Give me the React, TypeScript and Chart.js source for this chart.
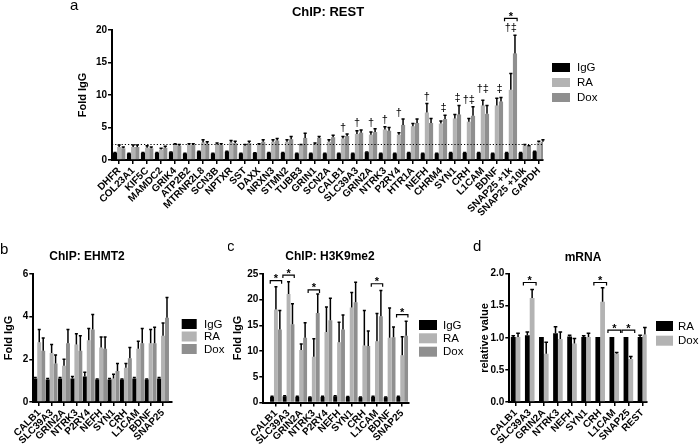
import React, { useEffect, useRef } from 'react';
import { Chart, registerables } from 'chart.js';

Chart.register(...registerables);

const FONT = "'Liberation Sans', Arial, Helvetica, sans-serif";
const BLACK = '#000000';
const LIGHT = '#b3b3b3';
const DARK = '#8f8f8f';

// ---------------- Panel a: ChIP REST ----------------
const aGenes = ['DHFR', 'COL23A1', 'KIF5C', 'MAMDC2', 'GRIK4', 'ATP2B2', 'MTRNR2L8', 'SCN3B', 'NPTXR', 'SST', 'DAXX', 'NRXN3', 'STMN2', 'TUBB3', 'GRIN1', 'SCN2A', 'CALB1', 'SLC39A3', 'GRIN2A', 'NTRK3', 'P2RY4', 'HTR1A', 'NEFH', 'CHRM4', 'SYN1', 'CRH', 'L1CAM', 'BDNF', 'SNAP25 +1k', 'SNAP25 +10k', 'GAPDH'];
const aIgG = [1.1, 1.0, 1.1, 1.1, 1.2, 1.0, 1.3, 1.0, 1.3, 1.0, 1.1, 1.1, 1.1, 1.0, 1.0, 1.0, 1.0, 1.0, 1.2, 1.0, 1.0, 1.1, 1.0, 1.0, 1.1, 1.1, 1.1, 1.0, 1.1, 1.1, 1.3];
const aIgGErr = [0.05, 0.03, 0.05, 0.05, 0.05, 0.03, 0.05, 0.03, 0.05, 0.03, 0.03, 0.05, 0.05, 0.03, 0.03, 0.03, 0.03, 0.03, 0.05, 0.03, 0.03, 0.05, 0.03, 0.03, 0.05, 0.05, 0.05, 0.03, 0.05, 0.05, 0.05];
const aRA = [2.0, 2.0, 1.9, 1.6, 2.3, 2.3, 2.7, 2.4, 2.7, 2.2, 2.3, 2.8, 2.8, 2.3, 2.4, 2.8, 3.3, 4.0, 3.9, 4.7, 3.9, 5.2, 7.3, 5.6, 6.4, 5.9, 8.4, 8.4, 10.8, 2.2, 2.7];
const aRAErr = [0.3, 0.3, 0.3, 0.2, 0.2, 0.2, 0.4, 0.2, 0.3, 0.2, 0.2, 0.3, 0.3, 0.1, 0.2, 0.3, 0.3, 0.5, 0.4, 0.4, 0.3, 0.4, 1.4, 0.4, 0.6, 0.5, 0.8, 1.1, 2.5, 0.2, 0.2];
const aDox = [1.8, 2.0, 1.8, 1.9, 2.2, 2.3, 2.5, 2.3, 2.6, 2.6, 2.8, 3.0, 3.2, 3.4, 3.4, 3.5, 3.7, 4.2, 4.3, 4.5, 5.4, 5.7, 5.7, 6.3, 7.0, 6.8, 7.1, 9.0, 16.4, 2.1, 2.8];
const aDoxErr = [0.2, 0.3, 0.2, 0.2, 0.2, 0.2, 0.3, 0.2, 0.3, 0.3, 0.3, 0.3, 0.4, 0.7, 0.2, 0.3, 0.3, 0.4, 0.5, 0.5, 0.9, 0.6, 0.7, 0.6, 1.4, 1.4, 1.3, 0.6, 2.8, 0.1, 0.3];
const aYTicks = [0, 5, 10, 15, 20];
const aThreshold = 2.45;
const aMarks = [
  { i: 16, text: '†', y: 4.9 },
  { i: 17, text: '†', y: 5.7 },
  { i: 18, text: '†', y: 5.7 },
  { i: 19, text: '†', y: 6.2 },
  { i: 20, text: '†', y: 7.2 },
  { i: 22, text: '†', y: 9.7 },
  { i: 23, text: '‡', y: 8.0 },
  { i: 24, text: '‡', y: 9.5 },
  { i: 25, text: '†‡', y: 9.2 },
  { i: 26, text: '†‡', y: 10.9 },
  { i: 27, text: '‡', y: 10.9 },
  { i: 28, text: '†‡', y: 20.3 },
];
const aSig = [{ i: 28, y: 21.8 }];

// ---------------- Panel b: ChIP EHMT2 ----------------
const bGenes = ['CALB1', 'SLC39A3', 'GRIN2A', 'NTRK3', 'P2RY4', 'NEFH', 'SYN1', 'CRH', 'L1CAM', 'BDNF', 'SNAP25'];
const bIgG = [1.1, 1.05, 1.1, 1.1, 1.2, 1.05, 1.05, 1.05, 1.1, 1.05, 1.1];
const bIgGErr = [0.05, 0.05, 0.05, 0.1, 0.2, 0.03, 0.05, 0.03, 0.05, 0.03, 0.05];
const bRA = [2.8, 2.3, 1.7, 2.7, 2.9, 2.55, 1.1, 1.6, 2.5, 2.75, 3.1];
const bRAErr = [0.6, 0.4, 0.3, 0.5, 0.55, 0.5, 0.2, 0.2, 0.35, 0.65, 0.6];
const bDox = [2.4, 1.8, 2.75, 2.4, 3.4, 2.5, 1.45, 2.05, 2.75, 2.75, 3.95];
const bDoxErr = [0.6, 0.4, 0.65, 0.7, 0.7, 0.55, 0.35, 0.5, 0.7, 0.75, 0.95];
const bYTicks = [0, 2, 4, 6];

// ---------------- Panel c: ChIP H3K9me2 ----------------
const cGenes = ['CALB1', 'SLC39A3', 'GRIN2A', 'NTRK3', 'P2RY4', 'NEFH', 'SYN1', 'CRH', 'L1CAM', 'BDNF', 'SNAP25'];
const cIgG = [1.1, 1.2, 1.1, 1.0, 1.1, 1.2, 1.1, 1.0, 1.1, 1.0, 1.1];
const cIgGErr = [0.1, 0.1, 0.1, 0.05, 0.1, 0.1, 0.05, 0.05, 0.1, 0.05, 0.1];
const cRA = [18.1, 21.1, 10.2, 8.9, 13.7, 11.7, 18.5, 11.1, 11.9, 12.6, 9.2];
const cRAErr = [4.4, 2.4, 1.2, 3.5, 4.9, 3.9, 2.9, 6.8, 5.4, 5.8, 3.6];
const cDox = [14.2, 15.2, 12.6, 17.4, 16.0, 14.2, 19.5, 11.0, 16.8, 12.7, 13.0];
const cDoxErr = [3.7, 4.0, 2.9, 3.7, 4.3, 2.8, 3.9, 2.9, 5.0, 2.0, 2.8];
const cYTicks = [0, 5, 10, 15, 20, 25];
const cSig = [
  { i: 0, y: 23.7 },
  { i: 1, y: 24.8 },
  { i: 3, y: 21.9 },
  { i: 8, y: 23.1 },
  { i: 10, y: 17.1 },
];

// ---------------- Panel d: mRNA ----------------
const dGenes = ['CALB1', 'SLC39A3', 'GRIN2A', 'NTRK3', 'NEFH', 'SYN1', 'CRH', 'L1CAM', 'SNAP25', 'REST'];
const dRA = [1.01, 1.04, 1.01, 1.07, 1.02, 1.01, 1.01, 1.01, 1.01, 1.01];
const dRAErr = [0.02, 0.05, 0.0, 0.1, 0.02, 0.02, 0.0, 0.0, 0.0, 0.03];
const dDox = [1.01, 1.62, 0.75, 0.98, 0.91, 1.01, 1.56, 0.75, 0.67, 1.05];
const dDoxErr = [0.06, 0.13, 0.18, 0.11, 0.08, 0.06, 0.22, 0.02, 0.04, 0.11];
const dYTicks = [0, 0.5, 1.0, 1.5, 2.0];
const dSig = [
  { i: 1, y: 1.86 },
  { i: 6, y: 1.86 },
  { i: 7, y: 1.12 },
  { i: 8, y: 1.12 },
];

type Series = { label: string; color: string; values: number[]; errors: number[] };
type Spec = {
  box: { left: number; top: number; width: number; height: number };
  plot: { left: number; right: number; top: number; bottom: number };
  yW: number;
  xH: number;
  xMin: number;
  xMax: number;
  yMax: number;
  yTicks: number[];
  yDecimals: number;
  cats: string[];
  series: Series[];
  catPct: number;
  title: { text: string; x: number; y: number; size: number };
  yTitle: { text: string; x: number; y: number };
  legend: { x: number; textX: number; ys: number[]; w: number; h: number };
  letter: { text: string; x: number; y: number };
  marks?: { i: number; text: string; y: number }[];
  sig?: { i: number; y: number }[];
  threshold?: number;
};

const specA: Spec = {
  box: { left: 0, top: 0, width: 700, height: 236 },
  plot: { left: 112, right: 543, top: 30, bottom: 160 },
  yW: 28,
  xH: 76,
  xMin: -0.51,
  xMax: 30.3,
  yMax: 20,
  yTicks: aYTicks,
  yDecimals: 0,
  cats: aGenes,
  series: [
    { label: 'IgG', color: BLACK, values: aIgG, errors: aIgGErr },
    { label: 'RA', color: LIGHT, values: aRA, errors: aRAErr },
    { label: 'Dox', color: DARK, values: aDox, errors: aDoxErr },
  ],
  catPct: 0.89,
  title: { text: 'ChIP: REST', x: 328, y: 12, size: 13 },
  yTitle: { text: 'Fold IgG', x: 82.5, y: 95 },
  legend: { x: 552, textX: 577, ys: [67.5, 82.5, 97.5], w: 18, h: 9 },
  letter: { text: 'a', x: 70, y: 10 },
  marks: aMarks,
  sig: aSig,
  threshold: aThreshold,
};

const specB: Spec = {
  box: { left: 0, top: 236, width: 228, height: 209 },
  plot: { left: 33.3, right: 171.7, top: 274, bottom: 402 },
  yW: 28,
  xH: 43,
  xMin: -0.48,
  xMax: 10.7,
  yMax: 6,
  yTicks: bYTicks,
  yDecimals: 0,
  cats: bGenes,
  series: [
    { label: 'IgG', color: BLACK, values: bIgG, errors: bIgGErr },
    { label: 'RA', color: LIGHT, values: bRA, errors: bRAErr },
    { label: 'Dox', color: DARK, values: bDox, errors: bDoxErr },
  ],
  catPct: 0.96,
  title: { text: 'ChIP: EHMT2', x: 87, y: 257, size: 12 },
  yTitle: { text: 'Fold IgG', x: 9, y: 338 },
  legend: { x: 181.7, textX: 204, ys: [324, 336.5, 349], w: 15, h: 10 },
  letter: { text: 'b', x: 0, y: 254 },
};

const specC: Spec = {
  box: { left: 228, top: 236, width: 237, height: 209 },
  plot: { left: 263.3, right: 408.3, top: 274, bottom: 402.5 },
  yW: 28,
  xH: 43,
  xMin: -1.0,
  xMax: 10.48,
  yMax: 25,
  yTicks: cYTicks,
  yDecimals: 0,
  cats: cGenes,
  series: [
    { label: 'IgG', color: BLACK, values: cIgG, errors: cIgGErr },
    { label: 'RA', color: LIGHT, values: cRA, errors: cRAErr },
    { label: 'Dox', color: DARK, values: cDox, errors: cDoxErr },
  ],
  catPct: 0.93,
  title: { text: 'ChIP: H3K9me2', x: 330, y: 257, size: 12 },
  yTitle: { text: 'Fold IgG', x: 237.5, y: 338 },
  legend: { x: 419, textX: 443, ys: [325, 338.3, 351.7], w: 18, h: 10 },
  letter: { text: 'c', x: 227, y: 251 },
  sig: cSig,
};

const specD: Spec = {
  box: { left: 465, top: 236, width: 235, height: 209 },
  plot: { left: 509.3, right: 646.7, top: 273.5, bottom: 402 },
  yW: 28,
  xH: 43,
  xMin: -0.45,
  xMax: 9.3,
  yMax: 2,
  yTicks: dYTicks,
  yDecimals: 1,
  cats: dGenes,
  series: [
    { label: 'RA', color: BLACK, values: dRA, errors: dRAErr },
    { label: 'Dox', color: LIGHT, values: dDox, errors: dDoxErr },
  ],
  catPct: 0.68,
  title: { text: 'mRNA', x: 583, y: 257.5, size: 12 },
  yTitle: { text: 'relative value', x: 485, y: 338 },
  legend: { x: 656, textX: 678, ys: [326, 340.7], w: 17, h: 10 },
  letter: { text: 'd', x: 473, y: 251 },
  sig: dSig,
};

const decorPlugin = {
  id: 'decor',
  afterDatasetsDraw(chart: any, _args: any, opts: any) {
    const s: Spec = opts.spec;
    if (!s) return;
    const ctx = chart.ctx;
    const ys = chart.scales.y;
    ctx.save();
    if (s.threshold != null) {
      const y = Math.round(ys.getPixelForValue(s.threshold)) + 0.5;
      ctx.strokeStyle = '#000';
      ctx.lineWidth = 1;
      ctx.setLineDash([1.2, 2]);
      ctx.beginPath();
      ctx.moveTo(chart.chartArea.left, y);
      ctx.lineTo(chart.chartArea.right, y);
      ctx.stroke();
      ctx.setLineDash([]);
    }
    chart.data.datasets.forEach((ds: any, di: number) => {
      const meta = chart.getDatasetMeta(di);
      meta.data.forEach((bar: any, i: number) => {
        const e = ds.errors ? ds.errors[i] : 0;
        if (!e) return;
        const v = ds.data[i].y;
        const x = bar.x;
        const y0 = ys.getPixelForValue(v);
        const y1 = ys.getPixelForValue(v + e);
        const cap = Math.max(1.5, bar.width * 0.38);
        ctx.strokeStyle = '#000';
        ctx.lineWidth = 1.5;
        ctx.beginPath();
        ctx.moveTo(x, y0);
        ctx.lineTo(x, y1);
        ctx.moveTo(x - cap, y1);
        ctx.lineTo(x + cap, y1);
        ctx.stroke();
      });
    });
    ctx.restore();
  },
  afterDraw(chart: any, _args: any, opts: any) {
    const s: Spec = opts.spec;
    if (!s) return;
    const ctx = chart.ctx;
    const xs = chart.scales.x;
    const ys = chart.scales.y;
    const ox = s.box.left;
    const oy = s.box.top;
    ctx.save();
    ctx.fillStyle = '#000';
    ctx.strokeStyle = '#000';
    // panel letter
    ctx.font = `normal 15px ${FONT}`;
    ctx.textAlign = 'left';
    ctx.textBaseline = 'alphabetic';
    ctx.fillText(s.letter.text, s.letter.x - ox, s.letter.y - oy);
    // title
    ctx.font = `bold ${s.title.size}px ${FONT}`;
    ctx.textAlign = 'center';
    ctx.textBaseline = 'middle';
    ctx.fillText(s.title.text, s.title.x - ox, s.title.y - oy);
    // y title
    ctx.save();
    ctx.translate(s.yTitle.x - ox, s.yTitle.y - oy);
    ctx.rotate(-Math.PI / 2);
    ctx.font = `bold 11px ${FONT}`;
    ctx.textAlign = 'center';
    ctx.textBaseline = 'middle';
    ctx.fillText(s.yTitle.text, 0, 0);
    ctx.restore();
    // legend
    s.series.forEach((ser, k) => {
      const cy = s.legend.ys[k] - oy;
      ctx.fillStyle = ser.color;
      ctx.fillRect(s.legend.x - ox, cy - s.legend.h / 2, s.legend.w, s.legend.h);
      ctx.fillStyle = '#000';
      ctx.font = `normal 11.5px ${FONT}`;
      ctx.textAlign = 'left';
      ctx.textBaseline = 'middle';
      ctx.fillText(ser.label, s.legend.textX - ox, cy + 0.5);
    });
    // dagger marks
    (s.marks || []).forEach((m) => {
      const x = xs.getPixelForValue(m.i + (m.text === '‡' ? 0.2 : 0));
      const y = ys.getPixelForValue(m.y);
      ctx.font = `normal 11px ${FONT}`;
      ctx.textAlign = 'center';
      ctx.textBaseline = 'middle';
      ctx.fillText(m.text, x, y);
    });
    // significance brackets
    (s.sig || []).forEach((b) => {
      const x0 = xs.getPixelForValue(b.i - 0.45);
      const x1 = xs.getPixelForValue(b.i + 0.45);
      const y = ys.getPixelForValue(b.y);
      ctx.lineWidth = 1.2;
      ctx.beginPath();
      ctx.moveTo(x0, y + 3);
      ctx.lineTo(x0, y);
      ctx.lineTo(x1, y);
      ctx.lineTo(x1, y + 3);
      ctx.stroke();
      ctx.font = `bold 11px ${FONT}`;
      ctx.textAlign = 'center';
      ctx.textBaseline = 'alphabetic';
      ctx.fillText('*', (x0 + x1) / 2, y + 1.5);
    });
    ctx.restore();
  },
};

function buildConfig(s: Spec): any {
  const padLeft = s.plot.left - s.box.left - s.yW;
  const padRight = s.box.left + s.box.width - s.plot.right;
  const padTop = s.plot.top - s.box.top;
  const padBottom = s.box.top + s.box.height - s.plot.bottom - s.xH;
  return {
    type: 'bar',
    data: {
      datasets: s.series.map((ser) => ({
        label: ser.label,
        data: ser.values.map((v, i) => ({ x: i, y: v })),
        errors: ser.errors,
        backgroundColor: ser.color,
        borderWidth: 0,
        barPercentage: 1,
        categoryPercentage: s.catPct,
      })),
    },
    options: {
      animation: false,
      responsive: false,
      maintainAspectRatio: false,
      devicePixelRatio: 1,
      layout: { padding: { left: padLeft, right: padRight, top: padTop, bottom: padBottom } },
      plugins: {
        legend: { display: false },
        title: { display: false },
        tooltip: { enabled: false },
        decor: { spec: s },
      },
      scales: {
        x: {
          type: 'linear',
          min: s.xMin,
          max: s.xMax,
          offset: false,
          bounds: 'data',
          afterBuildTicks: (scale: any) => {
            scale.ticks = s.cats.map((_c, i) => ({ value: i }));
          },
          afterFit: (scale: any) => {
            scale.height = s.xH;
          },
          ticks: {
            autoSkip: false,
            maxRotation: 45,
            minRotation: 45,
            padding: 1,
            color: '#000',
            font: { family: FONT, size: 10, weight: 'bold' },
            callback: (_v: any, i: number) => s.cats[i],
          },
          grid: {
            display: true,
            offset: false,
            drawOnChartArea: false,
            drawTicks: true,
            tickLength: 4,
            color: '#000',
            lineWidth: 1.5,
          },
          border: { display: true, color: '#000', width: 2 },
        },
        y: {
          type: 'linear',
          min: 0,
          max: s.yMax,
          afterBuildTicks: (scale: any) => {
            scale.ticks = s.yTicks.map((v) => ({ value: v }));
          },
          afterFit: (scale: any) => {
            scale.width = s.yW;
          },
          ticks: {
            padding: 1,
            color: '#000',
            font: { family: FONT, size: 10, weight: 'bold' },
            callback: (v: any) => Number(v).toFixed(s.yDecimals),
          },
          grid: {
            display: true,
            drawOnChartArea: false,
            drawTicks: true,
            tickLength: 4,
            color: '#000',
            lineWidth: 1.5,
          },
          border: { display: true, color: '#000', width: 2 },
        },
      },
    },
    plugins: [decorPlugin],
  };
}

function Panel({ spec }: { spec: Spec }) {
  const ref = useRef<HTMLCanvasElement | null>(null);
  useEffect(() => {
    if (!ref.current) return;
    const chart = new Chart(ref.current, buildConfig(spec));
    return () => chart.destroy();
  }, [spec]);
  return (
    <canvas
      ref={ref}
      width={spec.box.width}
      height={spec.box.height}
      style={{
        position: 'absolute',
        left: spec.box.left,
        top: spec.box.top,
        width: spec.box.width,
        height: spec.box.height,
      }}
    />
  );
}

export default function App() {
  return (
    <div
      style={{
        position: 'fixed',
        left: 0,
        top: 0,
        width: 700,
        height: 445,
        background: '#ffffff',
        overflow: 'hidden',
      }}
    >
      <Panel spec={specA} />
      <Panel spec={specB} />
      <Panel spec={specC} />
      <Panel spec={specD} />
    </div>
  );
}
